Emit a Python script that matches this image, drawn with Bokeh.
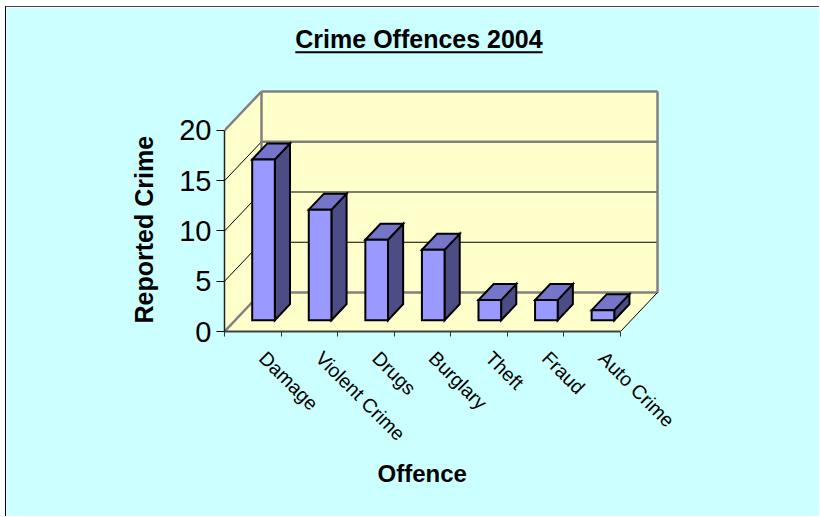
import math
from bokeh.plotting import figure
from bokeh.models import Range1d, FixedTicker, LinearAxis, ColumnDataSource, Label, BoxAnnotation, Title
from bokeh.embed import file_html
from bokeh.resources import INLINE

# ---- data ----
categories = ["Damage", "Violent Crime", "Drugs", "Burglary", "Theft", "Fraud", "Auto Crime"]
values = [16, 11, 8, 7, 2, 2, 1]
y_ticks = [0, 5, 10, 15, 20]
title_text = "Crime Offences 2004"
x_title = "Offence"
y_title = "Reported Crime"

# ---- 3D projection settings (styles) ----
N = len(categories)
YMAX = y_ticks[-1]
DX, DY = 0.654, 3.88      # depth offset (category units, value units)
PADX = 0.053
YTOP = 31.144             # room above the walls for the chart title
F1, F2 = 0.29, 0.70       # bar depth span
B0, B1 = 0.30, 0.70       # bar width span within category
FONT = "Liberation Sans"


def proj(x, v, d):
    return x + d * DX, v + d * DY


def poly(pts):
    return [pt[0] for pt in pts], [pt[1] for pt in pts]


p = figure(width=814, height=510, output_backend="svg", toolbar_location=None,
           x_range=Range1d(0, N + DX + PADX), y_range=Range1d(0, YTOP),
           x_axis_type=None, y_axis_type=None,
           min_border_left=218, min_border_right=160, min_border_top=11, min_border_bottom=186)
p.background_fill_color = "#CCFFFF"
p.border_fill_color = "#CCFFFF"
p.outline_line_color = None
p.styles = {"margin-left": "5px", "margin-top": "6px",
            "border-left": "1px solid #000000", "border-top": "1px solid #444444"}

# walls and floor
walls = [
    [proj(0, 0, 1), proj(N, 0, 1), proj(N, YMAX, 1), proj(0, YMAX, 1)],
    [proj(0, 0, 0), proj(0, 0, 1), proj(0, YMAX, 1), proj(0, YMAX, 0)],
    [proj(0, 0, 0), proj(N, 0, 0), proj(N, 0, 1), proj(0, 0, 1)],
]
wx, wy = zip(*[poly(w) for w in walls])
p.patches(list(wx), list(wy), fill_color="#FFFFCC", line_color=None)

# grid lines
g_xs, g_ys, g_col, g_w = [], [], [], []
for v in y_ticks:
    a = proj(0, v, 0); b = proj(0, v, 1); c = proj(N, v, 1)
    edge = v in (0, YMAX)
    g_xs.append([a[0], b[0]]); g_ys.append([a[1], b[1]])
    g_col.append("#808080" if edge else "#000000"); g_w.append(2.5 if edge else 1)
    g_xs.append([b[0], c[0]]); g_ys.append([b[1], c[1]])
    gray = edge or v == 15
    g_col.append("#808080" if gray else "#000000"); g_w.append(2.5 if gray else 1)
for xx in (0, N):
    a = proj(xx, 0, 1); b = proj(xx, YMAX, 1)
    g_xs.append([a[0], b[0]]); g_ys.append([a[1], b[1]])
    g_col.append("#808080"); g_w.append(2.5)
a = proj(N, 0, 0); b = proj(N, 0, 1)
g_xs.append([a[0], b[0]]); g_ys.append([a[1], b[1]])
g_col.append("#000000"); g_w.append(1)
p.multi_line(xs="xs", ys="ys", line_color="col", line_width="w",
             source=ColumnDataSource(dict(xs=g_xs, ys=g_ys, col=g_col, w=g_w)))

# bars
fronts, tops, sides = [], [], []
for i, h in enumerate(values):
    x0, x1 = i + B0, i + B1
    fronts.append(poly([proj(x0, 0, F1), proj(x1, 0, F1), proj(x1, h, F1), proj(x0, h, F1)]))
    tops.append(poly([proj(x0, h, F1), proj(x1, h, F1), proj(x1, h, F2), proj(x0, h, F2)]))
    sides.append(poly([proj(x1, 0, F1), proj(x1, 0, F2), proj(x1, h, F2), proj(x1, h, F1)]))
for faces, col in ((sides, "#4D4D85"), (tops, "#7575CA"), (fronts, "#9999FF")):
    xs, ys = zip(*faces)
    p.patches(list(xs), list(ys), fill_color=col, line_color="black", line_width=2, line_join="miter")

# axes
yax = LinearAxis(ticker=FixedTicker(ticks=y_ticks, minor_ticks=[]), bounds=(0, YMAX))
yax.axis_line_color = "#222222"
yax.axis_line_width = 1.5
yax.major_tick_out = 8
yax.major_tick_in = 0
yax.major_tick_line_color = "black"
yax.major_label_standoff = 5
yax.major_label_text_font = FONT
yax.major_label_text_font_size = "29px"
yax.major_label_text_color = "black"
p.add_layout(yax, "left")

LABEL_SHIFT = 0.176
xax = LinearAxis(ticker=FixedTicker(ticks=[i + 0.5 + LABEL_SHIFT for i in range(N)],
                                    minor_ticks=list(range(N + 1))),
                 bounds=(0, N))
xax.major_label_overrides = {i + 0.5 + LABEL_SHIFT: c for i, c in enumerate(categories)}
xax.major_label_orientation = -math.pi / 4
xax.axis_line_color = "#404040"
xax.axis_line_width = 2
xax.major_tick_line_color = None
xax.major_tick_out = 5
xax.major_tick_in = 0
xax.minor_tick_out = 5
xax.minor_tick_in = 0
xax.minor_tick_line_color = "#333333"
xax.major_label_standoff = 18
xax.major_label_text_font = FONT
xax.major_label_text_font_size = "19.5px"
xax.major_label_text_color = "black"
p.add_layout(xax, "below")

# axis titles
p.add_layout(Title(text=x_title, align="left", offset=153, vertical_align="top", standoff=8,
                   text_font=FONT, text_font_size="24px", text_font_style="bold",
                   text_color="black"), "below")
p.add_layout(Title(text=y_title, align="left", offset=8, vertical_align="bottom", standoff=38,
                   text_font=FONT, text_font_size="25px", text_font_style="bold",
                   text_color="black"), "left")

# chart title (underlined)
TFS = 25
tx, ty = 3.438, 29.09
p.add_layout(Label(x=tx, y=ty, text=title_text, text_align="center", text_baseline="alphabetic",
                   text_font=FONT, text_font_size=f"{TFS}px", text_font_style="bold", text_color="black"))
ux, uy = 3.438, 28.29
half_w = 9.893 * TFS / 2 / 56.57
p.add_layout(BoxAnnotation(left=ux - half_w, right=ux + half_w, top=uy - 0.41, bottom=uy - 0.61,
                           fill_color="black", fill_alpha=1, line_color=None, level="overlay"))

open("out.html", "w").write(file_html(p, INLINE))
